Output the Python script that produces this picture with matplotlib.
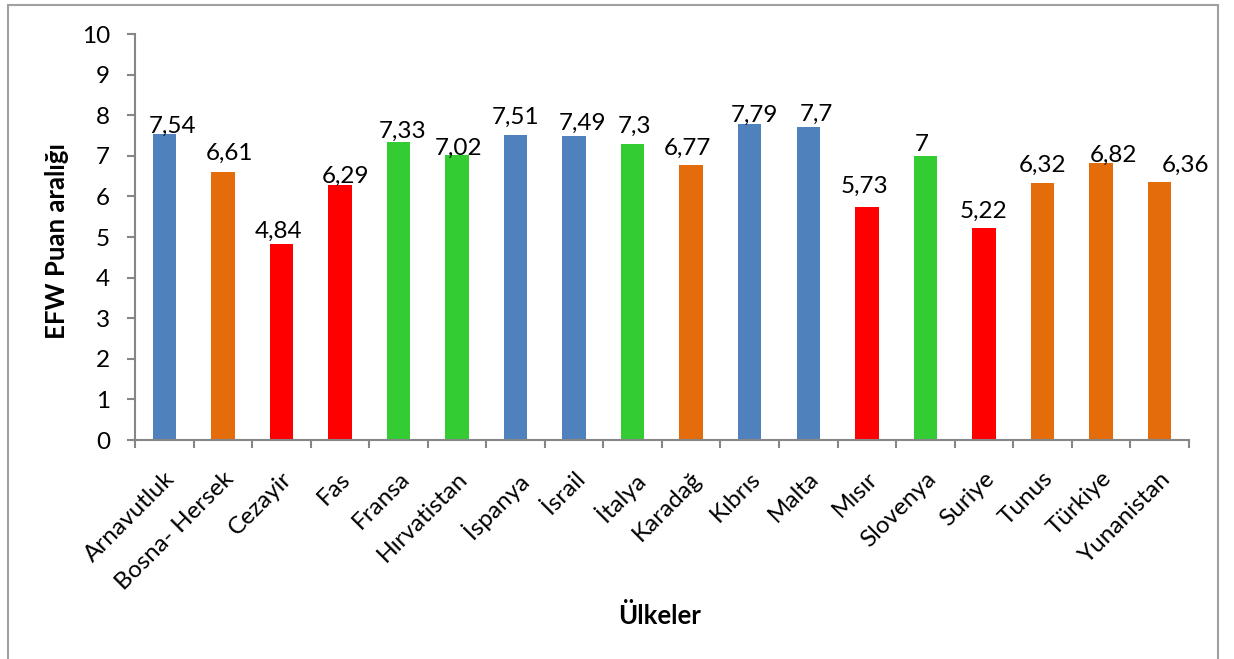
import matplotlib
matplotlib.use("Agg")
import matplotlib.pyplot as plt
from matplotlib.patches import Rectangle

countries = ["Arnavutluk", "Bosna- Hersek", "Cezayir", "Fas", "Fransa", "Hırvatistan",
             "İspanya", "İsrail", "İtalya", "Karadağ", "Kıbrıs", "Malta", "Mısır",
             "Slovenya", "Suriye", "Tunus", "Türkiye", "Yunanistan"]
values = [7.54, 6.61, 4.84, 6.29, 7.33, 7.02, 7.51, 7.49, 7.3, 6.77, 7.79, 7.7, 5.73,
          7.0, 5.22, 6.32, 6.82, 6.36]
value_labels = ["7,54", "6,61", "4,84", "6,29", "7,33", "7,02", "7,51", "7,49", "7,3",
                "6,77", "7,79", "7,7", "5,73", "7", "5,22", "6,32", "6,82", "6,36"]
groups = ["b", "o", "r", "r", "g", "g", "b", "b", "g", "o", "b", "b", "r", "g", "r",
          "o", "o", "o"]
palette = {"b": "#4F81BD", "o": "#E46C0A", "r": "#FF0000", "g": "#33CC33"}

# manual label nudges (pixels) as placed in the original chart
label_dx = [8, 7, -3, 6, 4, 2, 0, 8, 1.5, -4, 5, 8, -2.5, -3.5, 0, 0, 12.5, 25.5]
label_dy = [1, 12, 6, 2, 5, 0, 11, 6, 11, 10, 2, 7, 15, 5, 10, 12, 1, 10]

plt.rcParams['font.family'] = ['Lato', 'DejaVu Sans']

fig = plt.figure(figsize=(12.34, 6.59), dpi=100)
ax = fig.add_axes([0.1094, 0.3323, 0.854, 0.6161])

x = list(range(len(countries)))
ax.bar(x, values, width=0.4, color=[palette[g] for g in groups], zorder=2)
for xi, v, lab, dx, dy in zip(x, values, value_labels, label_dx, label_dy):
    ax.annotate(lab, (xi, v), xytext=(dx, dy), textcoords="offset pixels",
                ha="center", va="baseline", fontsize=17.5, color="black", zorder=3)

ax.set_xlim(-0.5, len(countries) - 0.5)
ax.set_ylim(0, 10)
ax.set_yticks(range(0, 11))
ax.tick_params(axis="y", labelsize=17.5, length=6, width=1.5, color="#868686",
               direction="out", pad=12)
ax.set_xticks(x)
ax.set_xticklabels(countries, rotation=45, ha="right", rotation_mode="anchor", fontsize=17.5)
ax.tick_params(axis="x", length=0, pad=20)
ax.set_xticks([i - 0.5 for i in range(len(countries) + 1)], minor=True)
ax.tick_params(axis="x", which="minor", length=6, width=1.5, color="#868686", direction="out")

for s in ["top", "right"]:
    ax.spines[s].set_visible(False)
for s in ["left", "bottom"]:
    ax.spines[s].set_color("#868686")
    ax.spines[s].set_linewidth(1.5)

fig.text(57 / 1234, 1 - 241 / 659, "EFW Puan aralığı", rotation=90, ha="center", va="center",
         fontsize=18.5, fontweight="bold")
fig.text(660 / 1234, 1 - 615 / 659, "Ülkeler", ha="center", va="center",
         fontsize=18.5, fontweight="bold")

fig.patches.append(Rectangle((8 / 1234, -0.05), (1218 - 8) / 1234, 1.05 - 5 / 659,
                             transform=fig.transFigure, fill=False,
                             edgecolor="#A0A0A0", linewidth=1.5))

fig.savefig("out.png", dpi=100)
